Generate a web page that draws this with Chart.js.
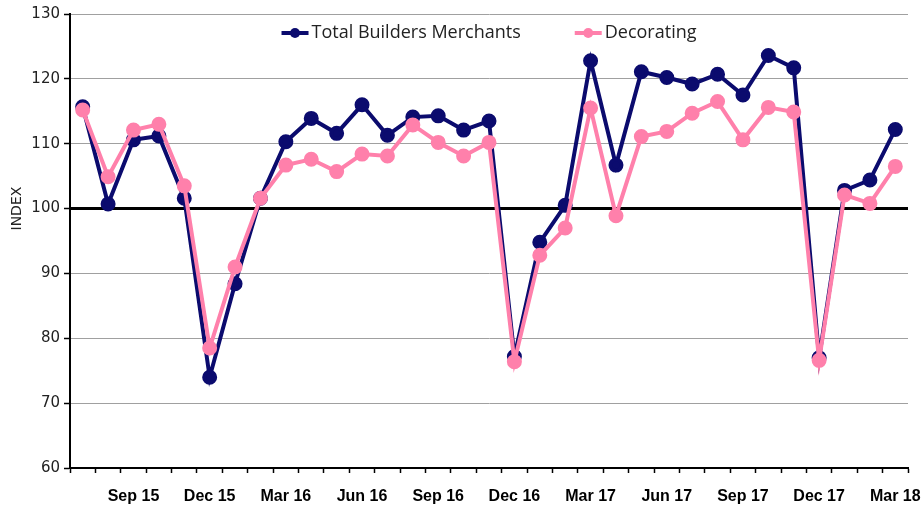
<!DOCTYPE html>
<html>
<head>
<meta charset="utf-8">
<script src="https://cdn.jsdelivr.net/npm/chart.js@4"></script>
<style>
    html, body { margin: 0; padding: 0; background: #fff; }
    #wrap { width: 922px; height: 506px; position: relative; }
</style>
</head>
<body>
<div id="wrap"><canvas id="indexChart"></canvas></div>
<script>
// Months, Jul 15 to Mar 18
const months = [
    'Jul 15', 'Aug 15', 'Sep 15', 'Oct 15', 'Nov 15', 'Dec 15',
    'Jan 16', 'Feb 16', 'Mar 16', 'Apr 16', 'May 16', 'Jun 16',
    'Jul 16', 'Aug 16', 'Sep 16', 'Oct 16', 'Nov 16', 'Dec 16',
    'Jan 17', 'Feb 17', 'Mar 17', 'Apr 17', 'May 17', 'Jun 17',
    'Jul 17', 'Aug 17', 'Sep 17', 'Oct 17', 'Nov 17', 'Dec 17',
    'Jan 18', 'Feb 18', 'Mar 18'
];

// only these get a label on the x axis
const shownTicks = ['Sep 15', 'Dec 15', 'Mar 16', 'Jun 16', 'Sep 16', 'Dec 16',
    'Mar 17', 'Jun 17', 'Sep 17', 'Dec 17', 'Mar 18'];

const totalBuildersMerchants = [
    115.7, 100.7, 110.6, 111.2, 101.6, 74.0,
    88.4, 101.6, 110.3, 113.9, 111.6, 116.0,
    111.3, 114.1, 114.3, 112.1, 113.5, 77.2,
    94.8, 100.5, 122.8, 106.7, 121.1, 120.2,
    119.2, 120.7, 117.5, 123.6, 121.7, 77.0,
    102.8, 104.4, 112.2
];

const decorating = [
    115.2, 104.9, 112.1, 113.0, 103.5, 78.5,
    91.0, 101.6, 106.7, 107.6, 105.7, 108.4,
    108.1, 112.9, 110.2, 108.1, 110.2, 76.4,
    92.8, 97.0, 115.5, 98.9, 111.1, 111.9,
    114.7, 116.5, 110.6, 115.6, 114.9, 76.6,
    102.1, 100.8, 106.5
];

const yTicks = { min: 60, max: 130, step: 10, baseline: 100 };
const yTitle = 'INDEX';

const NAVY = '#0b0b6e';
const PINK = '#ff80ab';

// Legend drawn inside the plot area, line + marker like the original
const innerLegend = {
    id: 'innerLegend',
    afterDraw(chart) {
        const ctx = chart.ctx;
        const area = chart.chartArea;
        const items = chart.data.datasets.slice().sort((a, b) => a.legendIndex - b.legendIndex);
        const lineLen = 27;
        const textGap = 3;
        const itemGap = 54;

        ctx.save();
        ctx.font = '18px "Open Sans", "Liberation Sans", sans-serif';
        const widths = items.map(ds => lineLen + textGap + ctx.measureText(ds.label).width);
        const total = widths.reduce((s, w) => s + w, 0) + itemGap * (items.length - 1);
        let x = (area.left + area.right) / 2 - total / 2;
        const y = area.top + 19;

        items.forEach((ds, i) => {
            ctx.strokeStyle = ds.borderColor;
            ctx.lineWidth = 4;
            ctx.beginPath();
            ctx.moveTo(x, y);
            ctx.lineTo(x + lineLen, y);
            ctx.stroke();
            ctx.fillStyle = ds.borderColor;
            ctx.beginPath();
            ctx.arc(x + lineLen / 2, y, 5, 0, Math.PI * 2);
            ctx.fill();

            ctx.fillStyle = '#222';
            ctx.textBaseline = 'middle';
            ctx.textAlign = 'left';
            ctx.fillText(ds.label, x + lineLen + textGap, y);
            x += widths[i] + itemGap;
        });
        ctx.restore();
    }
};

// Y axis title sits level with the 100 line in the original, not mid-axis
const axisTitle = {
    id: 'axisTitle',
    afterDraw(chart) {
        const ctx = chart.ctx;
        const yScale = chart.scales.y;
        ctx.save();
        ctx.translate(17, yScale.getPixelForValue(yTicks.baseline));
        ctx.rotate(-Math.PI / 2);
        ctx.font = '14px "DejaVu Sans", sans-serif';
        ctx.fillStyle = '#222';
        ctx.textAlign = 'center';
        ctx.textBaseline = 'middle';
        ctx.fillText(yTitle, 0, 0);
        ctx.restore();
    }
};

const chart = new Chart(document.getElementById('indexChart'), {
    type: 'line',
    data: {
        labels: months,
        datasets: [{
            label: 'Total Builders Merchants',
            data: totalBuildersMerchants,
            borderColor: NAVY,
            backgroundColor: NAVY,
            borderWidth: 4,
            pointRadius: 5.5,
            pointHoverRadius: 5.5,
            tension: 0,
            order: 1,
            legendIndex: 0
        }, {
            label: 'Decorating',
            data: decorating,
            borderColor: PINK,
            backgroundColor: PINK,
            borderWidth: 4,
            pointRadius: 5.5,
            pointHoverRadius: 5.5,
            tension: 0,
            order: 0,
            legendIndex: 1
        }]
    },
    options: {
        responsive: true,
        maintainAspectRatio: false,
        animation: false,
        layout: {
            padding: { top: 14, right: 14, left: 0, bottom: 0 }
        },
        plugins: {
            legend: { display: false },
            tooltip: { enabled: false }
        },
        scales: {
            x: {
                offset: true,
                grid: {
                    offset: true,
                    drawOnChartArea: false,
                    drawTicks: true,
                    tickLength: 5,
                    tickColor: '#000',
                    tickWidth: 1.5
                },
                border: { color: '#000', width: 2 },
                ticks: {
                    autoSkip: false,
                    maxRotation: 0,
                    minRotation: 0,
                    padding: 14,
                    color: '#000',
                    font: { family: '"Liberation Sans Narrow", "Liberation Sans", sans-serif', size: 16, weight: 'bold' },
                    callback: function (value) {
                        const lbl = this.getLabelForValue(value);
                        return shownTicks.includes(lbl) ? lbl : '';
                    }
                },
                afterFit(scale) {
                    scale.height = 38;
                    // let the end labels overhang like the original
                    scale.paddingLeft = 0;
                    scale.paddingRight = 0;
                }
            },
            y: {
                min: yTicks.min,
                max: yTicks.max,
                grid: {
                    color: c => c.tick && c.tick.value === yTicks.baseline ? '#000' : '#a0a0a0',
                    lineWidth: c => c.tick && c.tick.value === yTicks.baseline ? 3 : 1,
                    tickColor: '#000',
                    tickWidth: 1.5,
                    tickLength: 6
                },
                border: { color: '#000', width: 2 },
                ticks: {
                    stepSize: yTicks.step,
                    padding: 4,
                    color: '#222',
                    font: { family: '"DejaVu Sans", sans-serif', size: 15 }
                },
                afterFit(scale) { scale.width = 70; }
            }
        }
    },
    plugins: [innerLegend, axisTitle]
});
</script>
</body>
</html>
